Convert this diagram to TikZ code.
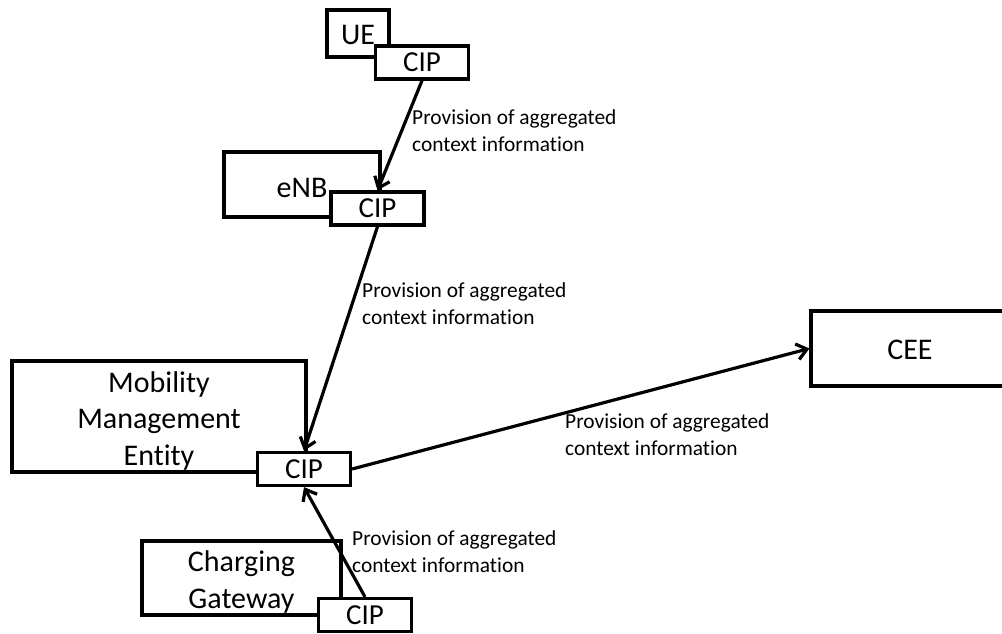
\documentclass[tikz,border=0pt]{standalone}
\usepackage{fontspec}
\setmainfont{Carlito}[Ligatures=NoCommon]
\usetikzlibrary{arrows.meta}

\tikzset{
  entity/.style={draw, line width=3.2pt, fill=white, inner sep=0pt},
  entitytext/.style={inner sep=0pt, align=center, font=\fontsize{30}{36.5}\selectfont},
  cipbox/.style={draw, line width=3.2pt, fill=white, inner sep=0pt,
                 minimum width=93pt, minimum height=33pt,
                 font=\fontsize{29}{34}\selectfont},
  flow/.style={line width=3.2pt, -{Straight Barb[length=10pt,width=16pt,line width=3.2pt]}},
  note/.style={anchor=base west, inner sep=0pt, align=left,
               font=\fontsize{21.4}{27}\selectfont}
}

\begin{document}
\begin{tikzpicture}[x=1pt, y=-1pt]
  \useasboundingbox (0,0) rectangle (1002,633);

  % network entities
  \node[entity, minimum width=62pt,  minimum height=47pt]  (ue)  at (358,33.5)  {};
  \node[entity, minimum width=156pt, minimum height=65pt]  (enb) at (302,184.5) {};
  \node[entity, minimum width=294pt, minimum height=111pt] (mme) at (159,416.5) {};
  \node[entity, minimum width=199pt, minimum height=74pt]  (cg)  at (241.5,578) {};
  \node[entity, minimum width=198pt, minimum height=75pt]  (cee) at (910,348.5) {};

  % entity names, set a little below the box centre
  \node[entitytext] (uet)  at ([yshift=-1pt]ue.center)  {UE};
  \node[entitytext] (enbt) at ([yshift=-3.5pt]enb.center) {eNB};
  \node[entitytext] (mmet) at ([yshift=-4pt]mme.center) {Mobility\\Management\\Entity};
  \node[entitytext] (cgt)  at ([yshift=-4pt]cg.center)  {Charging\\Gateway};
  \node[entitytext] (ceet) at ([yshift=-1.5pt]cee.center) {CEE};

  % context information providers attached to each entity
  \node[cipbox] (uecip)  at (422,62.5)  {CIP};
  \node[cipbox] (enbcip) at (377.5,208.5) {CIP};
  \node[cipbox] (mmecip) at (304,469)   {CIP};
  \node[cipbox] (cgcip)  at (365,615)   {CIP};

  % aggregated context flows
  \draw[flow] (uecip.south) -- (enbcip.north);
  \draw[flow] (enbcip.south) -- (mmecip.north);
  \draw[flow] (mmecip.east) -- (cee.west);
  \draw[flow] (cgcip.north) -- (mmecip.south);

  % flow labels (base anchor sits on the second line)
  \node[note] (l1) at (412,151) {Provision of aggregated\\context information};
  \node[note] (l2) at (362,324) {Provision of aggregated\\context information};
  \node[note] (l3) at (565,455) {Provision of aggregated\\context information};
  \node[note] (l4) at (352,572) {Provision of aggregated\\context information};
\end{tikzpicture}
\end{document}
